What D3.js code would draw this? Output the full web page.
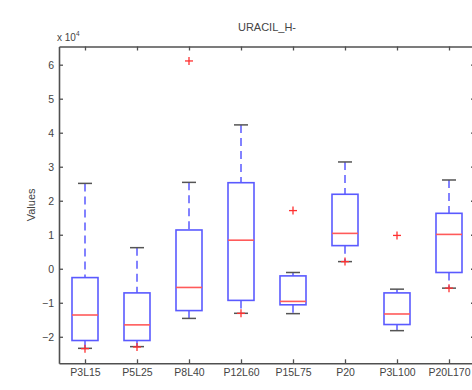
<!DOCTYPE html>
<html><head><meta charset="utf-8">
<script src="https://cdn.jsdelivr.net/npm/d3@7"></script>
<style>
html,body{margin:0;padding:0;background:#fff;overflow:hidden;}
svg{display:block;font-family:"Liberation Sans",Arial,sans-serif;}
</style></head>
<body>
<svg id="chart" width="472" height="390"></svg>
<script>
// values in units of 10^4
const categories = ["P3L15","P5L25","P8L40","P12L60","P15L75","P20","P3L100","P20L170"];
const whiskerHigh = [2.51, 0.62, 2.54, 4.23, -0.11, 3.14, -0.60, 2.61];
const q3          = [-0.26, -0.71, 1.14, 2.53, -0.21, 2.19, -0.71, 1.63];
const medians     = [-1.36, -1.65, -0.55, 0.84, -0.96, 1.04, -1.33, 1.01];
const q1          = [-2.11, -2.11, -1.23, -0.93, -1.06, 0.68, -1.64, -0.11];
const whiskerLow  = [-2.34, -2.29, -1.46, -1.31, -1.32, 0.21, -1.82, -0.57];
const outliers    = [
  {cat:"P3L15", v:-2.35}, {cat:"P5L25", v:-2.30}, {cat:"P8L40", v:6.11},
  {cat:"P12L60", v:-1.31}, {cat:"P15L75", v:1.71}, {cat:"P20", v:0.21},
  {cat:"P3L100", v:0.98}, {cat:"P20L170", v:-0.57}
];
const yTicks = [-2,-1,0,1,2,3,4,5,6];
const title = "URACIL_H-";
const yLabel = "Values";

const svg = d3.select("#chart");
const mLeft = 59, mRight = 475, mTop = 46.5, mBottom = 363.3;
const x = d3.scaleLinear().domain([0.5, categories.length + 0.5]).range([mLeft, mRight]);
const y = d3.scaleLinear().domain([-2.78, 6.535]).range([mBottom, mTop]);
const axisColor = "#505050";
const textColor = "#444";

const data = categories.map((c,i)=>({c, i:i+1, hi:whiskerHigh[i], q3:q3[i], med:medians[i], q1:q1[i], lo:whiskerLow[i]}));
const boxW = x(1.25) - x(1);   // half width in px (box 0.5 units)
const capW = x(1.135) - x(1);

const g = svg.append("g");
// whiskers (dashed blue)
g.selectAll(".wu").data(data).join("line")
  .attr("x1",d=>x(d.i)).attr("x2",d=>x(d.i)).attr("y1",d=>y(d.hi)).attr("y2",d=>y(d.q3))
  .attr("stroke","#5a5aff").attr("stroke-width",1.5).attr("stroke-dasharray","8,5");
g.selectAll(".wl").data(data).join("line")
  .attr("x1",d=>x(d.i)).attr("x2",d=>x(d.i)).attr("y1",d=>y(d.q1)).attr("y2",d=>y(d.lo))
  .attr("stroke","#5a5aff").attr("stroke-width",1.5).attr("stroke-dasharray","8,5");
// caps
["hi","lo"].forEach(k=>{
  g.selectAll(".cap"+k).data(data).join("line")
    .attr("x1",d=>x(d.i)-capW).attr("x2",d=>x(d.i)+capW)
    .attr("y1",d=>y(d[k])).attr("y2",d=>y(d[k]))
    .attr("stroke","#555").attr("stroke-width",1.5);
});
// boxes
g.selectAll(".box").data(data).join("rect")
  .attr("x",d=>x(d.i)-boxW).attr("width",2*boxW)
  .attr("y",d=>y(d.q3)).attr("height",d=>y(d.q1)-y(d.q3))
  .attr("fill","none").attr("stroke","#5a5aff").attr("stroke-width",1.6);
// medians
g.selectAll(".med").data(data).join("line")
  .attr("x1",d=>x(d.i)-boxW).attr("x2",d=>x(d.i)+boxW)
  .attr("y1",d=>y(d.med)).attr("y2",d=>y(d.med))
  .attr("stroke","#ff5a5a").attr("stroke-width",1.6);
// outliers (+)
const os = 4;
const og = g.selectAll(".out").data(outliers).join("g")
  .attr("transform",d=>`translate(${x(categories.indexOf(d.cat)+1)},${y(d.v)})`);
og.append("line").attr("x1",-os).attr("x2",os).attr("y1",0).attr("y2",0).attr("stroke","#ff3030").attr("stroke-width",1.3);
og.append("line").attr("x1",0).attr("x2",0).attr("y1",-os).attr("y2",os).attr("stroke","#ff3030").attr("stroke-width",1.3);

// axes frame
const ax = svg.append("g");
const xAxisB = d3.axisBottom(x).tickValues(d3.range(1,categories.length+1)).tickFormat(d=>categories[d-1]).tickSizeInner(-4).tickSizeOuter(0).tickPadding(5);
const xg = ax.append("g").attr("transform",`translate(0,${mBottom})`).call(xAxisB);
const xAxisT = d3.axisTop(x).tickValues(d3.range(1,categories.length+1)).tickFormat("").tickSizeInner(-4).tickSizeOuter(0);
const xt = ax.append("g").attr("transform",`translate(0,${mTop})`).call(xAxisT);
const yAxisL = d3.axisLeft(y).tickValues(yTicks).tickFormat(d3.format("d")).tickSizeInner(-4).tickSizeOuter(0).tickPadding(5);
const yl = ax.append("g").attr("transform",`translate(${mLeft},0)`).call(yAxisL);
const yAxisR = d3.axisRight(y).tickValues(yTicks).tickFormat("").tickSizeInner(-4).tickSizeOuter(0);
const yr = ax.append("g").attr("transform",`translate(${mRight},0)`).call(yAxisR);
[xg,xt,yl,yr].forEach(a=>{
  a.select(".domain").attr("stroke",axisColor).attr("stroke-width",1.6);
  a.selectAll(".tick line").attr("stroke",axisColor).attr("stroke-width",1.3);
  a.selectAll(".tick text").attr("fill",textColor).attr("font-size",10.5).attr("font-family","Liberation Sans, Arial, sans-serif");
});
xg.selectAll(".tick text").attr("dy","0.71em");

// exponent label
const ex = svg.append("text").attr("x",mLeft-2).attr("y",mTop-6).attr("fill",textColor).attr("font-size",10);
ex.append("tspan").text("x 10");
ex.append("tspan").attr("font-size",6.5).attr("dy",-5).text("4");

// title
svg.append("text").attr("x",(mLeft+mRight)/2).attr("y",31).attr("text-anchor","middle")
  .attr("fill",textColor).attr("font-size",11).text(title);
// y label
svg.append("text").attr("transform",`translate(35,${(mTop+mBottom)/2}) rotate(-90)`)
  .attr("text-anchor","middle").attr("fill",textColor).attr("font-size",11).text(yLabel);
</script>
</body></html>
